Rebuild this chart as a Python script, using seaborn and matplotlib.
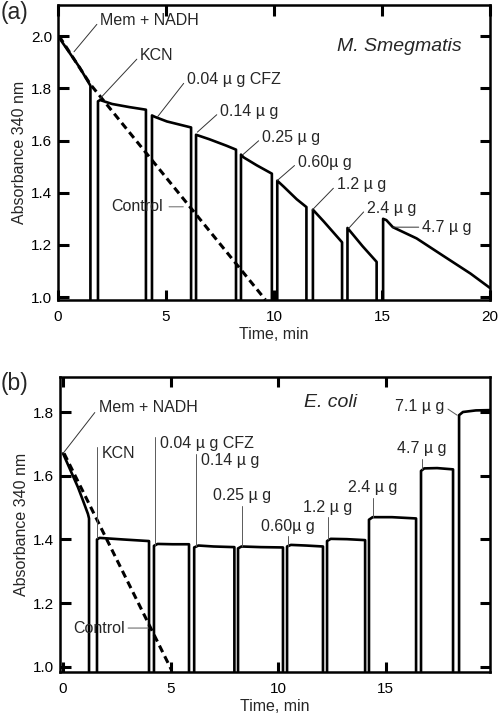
import numpy as np
import pandas as pd
import matplotlib
matplotlib.use("Agg")
import matplotlib.pyplot as plt
import seaborn as sns

sns.set_style("white")
plt.rcParams['font.family'] = ['Liberation Sans', 'DejaVu Sans']
plt.rcParams.update({
    "axes.axisbelow": False,
    "xtick.direction": "in", "ytick.direction": "in",
    "xtick.major.pad": 7, "ytick.major.pad": 4,
    "xtick.color": "k", "ytick.color": "k",
    "xtick.labelsize": 11, "ytick.labelsize": 11,
})

# floor value for the drops / rises (below the axes, gets clipped)
FLOOR = 0.9

# (a) M. smegmatis traces, one list per segment
smeg_t = [
    [0.0, 0.5, 1.0, 1.5],
    [1.85, 1.95, 2.5, 3.3, 4.07],
    [4.35, 4.5, 5.04, 6.16],
    [6.39, 7.0, 7.8, 8.24],
    [8.47, 8.6, 9.2, 9.9],
    [10.15, 10.45, 11.05, 11.5],
    [11.8, 12.3, 13.15],
    [13.4, 14.1, 14.75],
    [15.05, 15.2, 15.5, 16.6, 17.8, 19.1, 20.0],
]
smeg_a = [
    [2.0, 1.94, 1.88, 1.81],
    [1.75, 1.755, 1.74, 1.728, 1.718],
    [1.696, 1.69, 1.673, 1.65],
    [1.622, 1.605, 1.58, 1.565],
    [1.546, 1.535, 1.505, 1.473],
    [1.446, 1.423, 1.375, 1.345],
    [1.335, 1.29, 1.21],
    [1.265, 1.195, 1.135],
    [1.30, 1.295, 1.268, 1.225, 1.16, 1.09, 1.035],
]
smeg_ctrl_t = [0.05, 1.5, 9.6]
smeg_ctrl_a = [2.0, 1.815, 0.99]

# (b) E. coli traces
ecoli_t = [
    [0.0, 0.7, 0.93, 1.16, 1.21],
    [1.58, 1.7, 2.8, 4.0],
    [4.23, 4.4, 5.1, 5.86],
    [6.1, 6.3, 7.0, 7.97],
    [8.14, 8.3, 9.2, 10.23],
    [10.42, 10.6, 11.3, 12.09],
    [12.28, 12.45, 13.2, 14.05],
    [14.23, 14.4, 15.3, 16.42],
    [16.65, 16.8, 17.4, 18.14],
    [18.42, 18.6, 19.2, 19.9],
]
ecoli_a = [
    [1.67, 1.563, 1.522, 1.48, 1.466],
    [1.40, 1.405, 1.40, 1.395],
    [1.38, 1.386, 1.385, 1.385],
    [1.375, 1.381, 1.378, 1.376],
    [1.372, 1.378, 1.376, 1.375],
    [1.378, 1.383, 1.381, 1.378],
    [1.395, 1.402, 1.401, 1.398],
    [1.462, 1.47, 1.47, 1.466],
    [1.615, 1.623, 1.624, 1.62],
    [1.79, 1.80, 1.805, 1.806],
]
ecoli_ctrl_t = [0.05, 5.05]
ecoli_ctrl_a = [1.67, 0.99]

FIG_W, FIG_H, DPI = 4.98, 7.18, 100
TICK_PX = 10.5


def build_frame(ts, As):
    rows = []
    n = len(ts)
    for i, (t, a) in enumerate(zip(ts, As)):
        tt = list(t)
        aa = list(a)
        if i > 0:
            tt = [t[0]] + tt
            aa = [FLOOR] + aa
        if i < n - 1:
            tt = tt + [t[-1]]
            aa = aa + [FLOOR]
        for x, y in zip(tt, aa):
            rows.append({"t": x, "A": y, "seg": i})
    return pd.DataFrame(rows)


def draw_ticks(ax):
    # inward ticks on all four sides
    pos = ax.get_position()
    ly = TICK_PX / (pos.height * FIG_H * DPI)
    lx = TICK_PX / (pos.width * FIG_W * DPI)
    x0, x1 = ax.get_xlim()
    y0, y1 = ax.get_ylim()
    xt = [x for x in ax.get_xticks() if x0 <= x <= x1]
    yt = [y for y in ax.get_yticks() if y0 <= y <= y1]
    kw = dict(colors="k", linewidth=2.2, clip_on=False, zorder=4)
    ax.vlines(xt, 0, ly, transform=ax.get_xaxis_transform(), **kw)
    ax.vlines(xt, 1 - ly, 1, transform=ax.get_xaxis_transform(), **kw)
    ax.hlines(yt, 0, lx, transform=ax.get_yaxis_transform(), **kw)
    ax.hlines(yt, 1 - lx, 1, transform=ax.get_yaxis_transform(), **kw)


def style_axes(ax, xlim, ylim, yticks, xticks):
    ax.set_xlim(*xlim)
    ax.set_ylim(*ylim)
    ax.set_yticks(yticks)
    ax.set_yticklabels([f"{v:.1f}" for v in yticks])
    ax.set_xticks(xticks)
    ax.tick_params(axis="x", length=0, pad=7, labelsize=11)
    ax.tick_params(axis="y", length=0, pad=4, labelsize=11)
    for s in ax.spines.values():
        s.set_linewidth(1.8)
        s.set_visible(True)
        s.set_color("k")
    ax.set_xlabel("Time, min", fontsize=11.5, labelpad=2)
    ax.set_ylabel("Absorbance 340 nm", fontsize=11.5, labelpad=3)
    draw_ticks(ax)
    ax.set_xlim(*xlim)
    ax.set_ylim(*ylim)


fig = plt.figure(figsize=(FIG_W, FIG_H), dpi=DPI)
ax1 = fig.add_axes([0.1165, 0.582, 0.8675, 0.411])
ax2 = fig.add_axes([0.1205, 0.064, 0.8635, 0.411])

dash = (0, (2.4, 1.5))
FS = 11.5

# ---------- panel (a)
df_a = build_frame(smeg_t, smeg_a)
sns.lineplot(data=df_a, x="t", y="A", units="seg", estimator=None, sort=False,
             color="k", lw=1.9, ax=ax1, legend=False)
sns.lineplot(x=smeg_ctrl_t, y=smeg_ctrl_a, color="k", lw=2.2, ax=ax1,
             sort=False, estimator=None, linestyle=dash)
style_axes(ax1, (0, 20), (0.9885, 2.119), [1.0, 1.2, 1.4, 1.6, 1.8, 2.0],
           [0, 5, 10, 15, 20])

lab_a = ["Mem + NADH", "KCN", "0.04 \u00b5 g CFZ", "0.14 \u00b5 g", "0.25 \u00b5 g",
         "0.60\u00b5 g", "1.2 \u00b5 g", "2.4 \u00b5 g", "4.7 \u00b5 g"]
lab_a_xy = [(0.74, 1.94), (1.94, 1.76), (4.6, 1.69), (6.45, 1.632), (8.56, 1.546),
            (10.14, 1.446), (11.76, 1.333), (13.45, 1.263), (15.5, 1.268)]
lab_a_txt = [(1.95, 2.06), (3.8, 1.925), (5.97, 1.835), (7.5, 1.71), (9.44, 1.61),
             (11.1, 1.515), (12.9, 1.43), (14.3, 1.34), (16.85, 1.268)]
for s, xy, xt in zip(lab_a, lab_a_xy, lab_a_txt):
    ax1.annotate(s, xy=xy, xytext=xt, ha="left", va="center", fontsize=FS,
                 arrowprops=dict(arrowstyle="-", lw=0.7, color="0.2",
                                 shrinkA=0, shrinkB=0, relpos=(0, 0.5)))
ax1.annotate("Control", xy=(5.8, 1.346), xytext=(4.86, 1.346), ha="right",
             va="center", fontsize=FS,
             arrowprops=dict(arrowstyle="-", lw=0.7, color="0.4",
                             shrinkA=2, shrinkB=0, relpos=(1, 0.5)))
ax1.text(12.9, 1.96, "M. Smegmatis", fontsize=14, style="italic", va="center")
fig.text(0.002, 0.982, "(a)", fontsize=16.5, va="center", ha="left")

# ---------- panel (b)
df_b = build_frame(ecoli_t, ecoli_a)
sns.lineplot(data=df_b, x="t", y="A", units="seg", estimator=None, sort=False,
             color="k", lw=1.9, ax=ax2, legend=False)
sns.lineplot(x=ecoli_ctrl_t, y=ecoli_ctrl_a, color="k", lw=2.2, ax=ax2,
             sort=False, estimator=None, linestyle=dash)
style_axes(ax2, (-0.14, 19.86), (0.984, 1.91), [1.0, 1.2, 1.4, 1.6, 1.8],
           [0, 5, 10, 15])

# labels with a vertical leader at their left
lab_b_left = ["KCN", "0.04 \u00b5 g CFZ", "0.14 \u00b5 g"]
lab_b_left_x = [1.58, 4.3, 6.18]
lab_b_left_y = [1.405, 1.384, 1.378]
lab_b_left_top = [1.69, 1.722, 1.668]
for s, x, y, top in zip(lab_b_left, lab_b_left_x, lab_b_left_y, lab_b_left_top):
    ax2.plot([x, x], [y, top], color="0.35", lw=0.7)
    ax2.text(x + 0.22, top + 0.002, s, ha="left", va="top", fontsize=FS)

# labels centred over a vertical leader
lab_b_mid = ["0.25 \u00b5 g", "0.60\u00b5 g", "1.2 \u00b5 g", "2.4 \u00b5 g", "4.7 \u00b5 g"]
lab_b_mid_x = [8.33, 10.47, 12.32, 14.4, 16.7]
lab_b_mid_y = [1.378, 1.381, 1.40, 1.469, 1.62]
lab_b_mid_top = [1.506, 1.41, 1.47, 1.53, 1.653]
for s, x, y, top in zip(lab_b_mid, lab_b_mid_x, lab_b_mid_y, lab_b_mid_top):
    ax2.plot([x, x], [y, top], color="0.35", lw=0.7)
    ax2.text(x, top + 0.008, s, ha="center", va="bottom", fontsize=FS)

ax2.annotate("Mem + NADH", xy=(0.0, 1.67), xytext=(1.67, 1.815), ha="left",
             va="center", fontsize=FS,
             arrowprops=dict(arrowstyle="-", lw=0.7, color="0.2",
                             shrinkA=1, shrinkB=0, relpos=(0, 0.5)))
ax2.annotate("7.1 \u00b5 g", xy=(18.33, 1.79), xytext=(17.75, 1.816), ha="right",
             va="center", fontsize=FS,
             arrowprops=dict(arrowstyle="-", lw=0.7, color="0.35",
                             shrinkA=0, shrinkB=0, relpos=(1, 0.5)))
ax2.annotate("Control", xy=(3.95, 1.122), xytext=(2.88, 1.122), ha="right",
             va="center", fontsize=FS,
             arrowprops=dict(arrowstyle="-", lw=1.0, color="0.55",
                             shrinkA=0, shrinkB=0, relpos=(1, 0.5)))
ax2.text(11.2, 1.83, "E. coli", fontsize=14, style="italic", va="center")
fig.text(0.002, 0.466, "(b)", fontsize=16.5, va="center", ha="left")

fig.savefig("out.png", dpi=DPI)
